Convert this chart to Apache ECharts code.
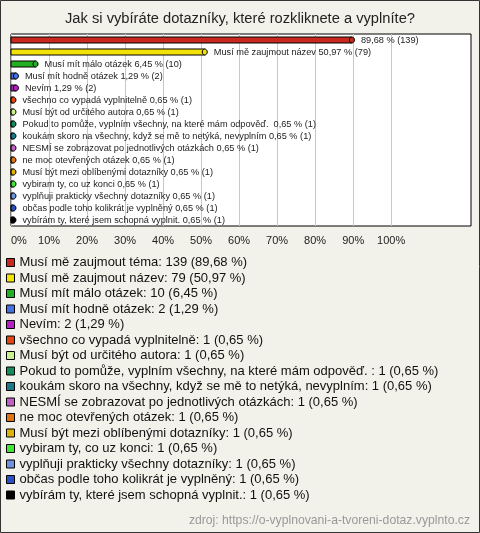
<!DOCTYPE html>
<html>
<head>
<meta charset="utf-8">
<script src="https://cdn.jsdelivr.net/npm/echarts@6/dist/echarts.min.js"></script>
<style>
html,body{margin:0;padding:0;background:#f3f2ea;}
#c{width:480px;height:533px;}
</style>
</head>
<body>
<div id="c"></div>
<script>
var titleText = 'Jak si vybíráte dotazníky, které rozkliknete a vyplníte?';
var sourceText = 'zdroj: https://o-vyplnovani-a-tvoreni-dotaz.vyplnto.cz';
var categories = [
  'Musí mě zaujmout téma',
  'Musí mě zaujmout název',
  'Musí mít málo otázek',
  'Musí mít hodně otázek',
  'Nevím',
  'všechno co vypadá vyplnitelně',
  'Musí být od určitého autora',
  'Pokud to pomůže, vyplním všechny, na které mám odpověď. ',
  'koukám skoro na všechny, když se mě to netýká, nevyplním',
  'NESMÍ se zobrazovat po jednotlivých otázkách',
  'ne moc otevřených otázek',
  'Musí být mezi oblíbenými dotazníky',
  'vybiram ty, co uz konci',
  'vyplňuji prakticky všechny dotazníky',
  'občas podle toho kolikrát je vyplněný',
  'vybírám ty, které jsem schopná vyplnit.'
];
var counts = [139, 79, 10, 2, 2, 1, 1, 1, 1, 1, 1, 1, 1, 1, 1, 1];
var percents = [89.68, 50.97, 6.45, 1.29, 1.29, 0.65, 0.65, 0.65, 0.65, 0.65, 0.65, 0.65, 0.65, 0.65, 0.65, 0.65];
var colors = ['#c8281e', '#f2e205', '#22b022', '#4572e0', '#b422c4', '#e0460f', '#c8f08c', '#148c5a',
              '#1a7a8c', '#c060c4', '#e07412', '#e0b208', '#44e434', '#6e94e0', '#2c50c0', '#000000'];
var xTicks = [0, 10, 20, 30, 40, 50, 60, 70, 80, 90, 100];

function fmt(p){ return p.toFixed(2).replace('.', ','); }

var chart = echarts.init(document.getElementById('c'), null, {renderer: 'canvas'});

var series = categories.map(function(name, i){
  return {
    type: 'custom',
    name: name,
    itemStyle: {color: colors[i]},
    data: [[percents[i], i]],
    renderItem: function(params, api){
      var si = params.seriesIndex;
      var v = api.value(0), c = api.value(1);
      var s = api.coord([0, c]);
      var e = api.coord([v, c]);
      var h = 6;
      var col = colors[si];
      var cs = params.coordSys;
      var lx = e[0] + 9;
      var pctTxt = fmt(percents[si]) + ' % (' + counts[si] + ')';
      var full = categories[si] + ' ' + pctTxt;
      var txt = (cs.x + cs.width - lx) < full.length * 4.4 ? pctTxt : full;
      return {type: 'group', children: [
        {type: 'rect', shape: {x: s[0], y: s[1] - h / 2, width: e[0] - s[0], height: h},
         style: {fill: col, stroke: '#000', lineWidth: 1}},
        {type: 'ellipse', shape: {cx: e[0], cy: s[1], rx: 2.5, ry: h / 2},
         style: {fill: col, stroke: '#000', lineWidth: 1}},
        {type: 'text', style: {x: lx, y: s[1], text: txt, fill: '#222',
          font: '9.2px "Liberation Sans", Arial, sans-serif', verticalAlign: 'middle', align: 'left'}}
      ]};
    }
  };
});

chart.setOption({
  backgroundColor: '#f3f2ea',
  animation: false,
  title: [
    {text: titleText, left: 'center', top: 11, padding: 0,
     textStyle: {fontFamily: '"Liberation Sans", Arial, sans-serif', fontSize: 14.7, fontWeight: 'normal', color: '#222'}},
    {text: sourceText, right: 10, bottom: 6, padding: 0,
     textStyle: {fontFamily: '"Liberation Sans", Arial, sans-serif', fontSize: 12.2, fontWeight: 'normal', color: '#999'}}
  ],
  graphic: [
    {type: 'rect', shape: {x: 0.5, y: 0.5, width: 479, height: 532}, style: {fill: 'none', stroke: '#333', lineWidth: 1}, silent: true}
  ],
  grid: {left: 11, right: 9, top: 34, bottom: 307, show: true, backgroundColor: '#fff', borderColor: '#000', borderWidth: 1},
  xAxis: {
    type: 'value', min: 0, max: 121, interval: 10,
    axisLine: {show: false},
    axisTick: {show: false, customValues: xTicks},
    splitLine: {show: true, lineStyle: {color: '#c8c8c8', width: 1}},
    axisLabel: {customValues: xTicks, formatter: '{value}%', alignMinLabel: 'left', margin: 9,
      fontFamily: '"Liberation Sans", Arial, sans-serif', fontSize: 11, color: '#222'}
  },
  yAxis: {
    type: 'category', data: categories, inverse: true,
    axisLine: {show: false}, axisTick: {show: false}, axisLabel: {show: false}, splitLine: {show: false}
  },
  legend: {
    orient: 'vertical', left: 6, top: 255, padding: 0, icon: 'rect', itemWidth: 8, itemHeight: 8, itemGap: 0.5,
    selectedMode: false,
    itemStyle: {borderColor: '#000', borderWidth: 1},
    textStyle: {fontFamily: '"Liberation Sans", Arial, sans-serif', fontSize: 13, color: '#111', lineHeight: 15},
    data: categories,
    formatter: function(name){
      var i = categories.indexOf(name);
      return name + ': ' + counts[i] + ' (' + fmt(percents[i]) + ' %)';
    }
  },
  series: series
});
</script>
</body>
</html>
